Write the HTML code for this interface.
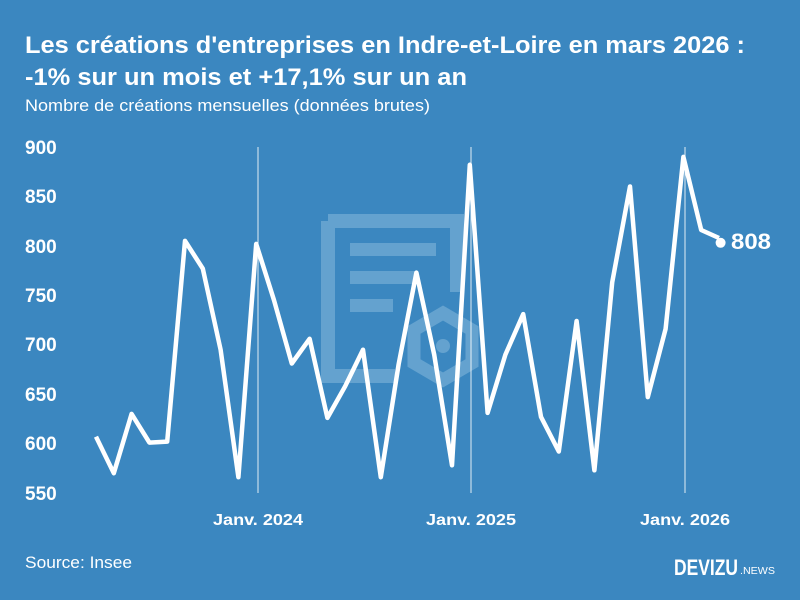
<!DOCTYPE html>
<html><head><meta charset="utf-8"><style>
body{margin:0;width:800px;height:600px;background:#3b87c0;overflow:hidden;font-family:"Liberation Sans",sans-serif;}
</style></head><body>
<svg width="800" height="600" xmlns="http://www.w3.org/2000/svg" font-family="Liberation Sans, sans-serif" style="display:block">
<rect width="800" height="600" fill="#3b87c0"/>
<text x="25" y="53" fill="#fff" font-size="24" font-weight="bold" textLength="720" lengthAdjust="spacingAndGlyphs">Les créations d'entreprises en Indre-et-Loire en mars 2026 :</text>
<text x="25" y="85" fill="#fff" font-size="24" font-weight="bold" textLength="442" lengthAdjust="spacingAndGlyphs">-1% sur un mois et +17,1% sur un an</text>
<text x="25" y="111" fill="#fff" font-size="17" textLength="405" lengthAdjust="spacingAndGlyphs">Nombre de créations mensuelles (données brutes)</text>
<g fill="none" stroke="#64a2cf" stroke-width="14">
<path d="M328 221 H457 V292 M328 221 V376 H395"/>
</g>
<g fill="#64a2cf">
<rect x="350" y="243" width="86" height="13"/>
<rect x="350" y="271" width="66" height="13"/>
<rect x="350" y="299" width="43" height="13"/>
</g>
<polygon points="443,313 472,330 472,363 443,380 414,363 414,330" fill="none" stroke="#64a2cf" stroke-width="13"/>
<circle cx="443" cy="346" r="7" fill="#64a2cf"/>
<g stroke="#ffffff" stroke-width="1" opacity="0.85">
<line x1="258" y1="147" x2="258" y2="493"/>
<line x1="471" y1="147" x2="471" y2="493"/>
<line x1="685" y1="147" x2="685" y2="493"/>
</g>
<g fill="#fff" font-size="19" font-weight="bold">
<text x="25" y="154">900</text><text x="25" y="203">850</text><text x="25" y="253">800</text>
<text x="25" y="302">750</text><text x="25" y="351">700</text><text x="25" y="401">650</text>
<text x="25" y="450">600</text><text x="25" y="500">550</text>
</g>
<g fill="#fff" font-size="16" font-weight="bold" text-anchor="middle">
<text x="258" y="525" textLength="90" lengthAdjust="spacingAndGlyphs">Janv. 2024</text><text x="471" y="525" textLength="90" lengthAdjust="spacingAndGlyphs">Janv. 2025</text><text x="685" y="525" textLength="90" lengthAdjust="spacingAndGlyphs">Janv. 2026</text>
</g>
<polyline id="ln" fill="none" stroke="#fff" stroke-width="4.5" stroke-linejoin="round"/>
<circle cx="720.6" cy="242.8" r="5" fill="#fff"/>
<text x="731" y="249" fill="#fff" font-size="22" font-weight="bold" textLength="40" lengthAdjust="spacingAndGlyphs">808</text>
<text x="25" y="568" fill="#fff" font-size="17" textLength="107" lengthAdjust="spacingAndGlyphs">Source: Insee</text>
<text x="674" y="575" fill="#fff" font-size="22" font-weight="bold" textLength="64" lengthAdjust="spacingAndGlyphs">DEVIZU</text>
<text x="740" y="574" fill="#fff" font-size="10" textLength="35" lengthAdjust="spacingAndGlyphs">.NEWS</text>
</svg>
<script>
var v=[607,570,630,601,602,805,777,695,566,802,745,681,706,626,658,695,566,680,773,690,578,882,631,690,731,627,592,724,573,763,860,647,716,890,816,808];
var p=v.map(function(d,i){return (96+i*17.8).toFixed(1)+","+(147+(900-d)*0.9886).toFixed(1)}).join(" ");
document.getElementById("ln").setAttribute("points",p);
</script>
</body></html>
